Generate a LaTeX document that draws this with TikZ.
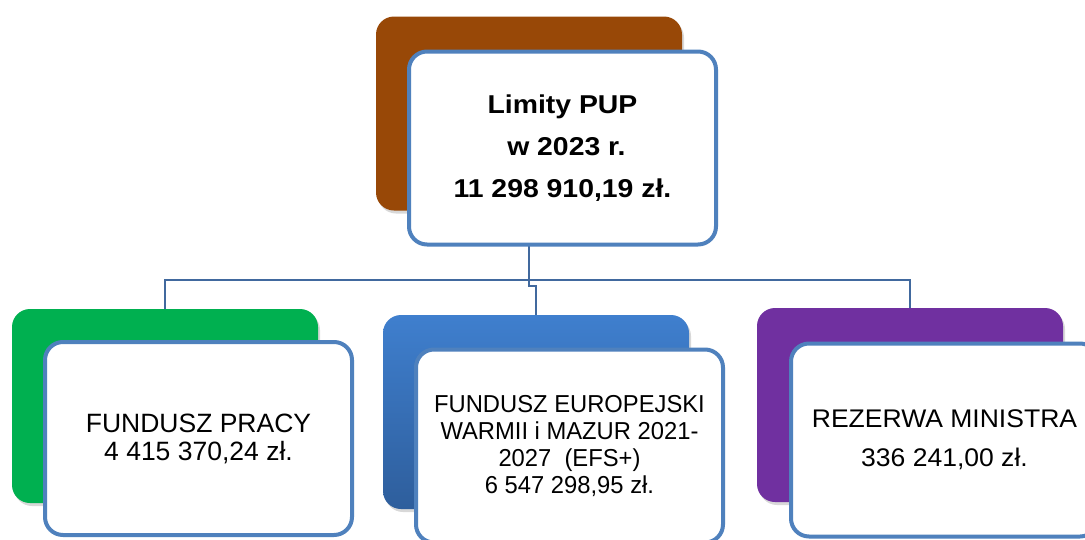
\documentclass[tikz,border=0pt]{standalone}
\usepackage{fontspec}
\setmainfont{Liberation Sans}
\newfontfamily\headfont[FakeStretch=1.1]{Liberation Sans}
\newfontfamily\wideonefont[FakeStretch=1.04]{Liberation Sans}
\newfontfamily\narrowfont[FakeStretch=0.97]{Liberation Sans}
\usetikzlibrary{shadows}
\definecolor{limitcolor}{RGB}{152,72,7}
\definecolor{fpcolor}{RGB}{0,176,80}
\definecolor{efscolor}{RGB}{63,127,206}
\definecolor{efsdark}{RGB}{46,94,156}
\definecolor{rezcolor}{RGB}{112,48,160}
\definecolor{framecolor}{RGB}{79,129,189}
\definecolor{linkcolor}{RGB}{65,105,158}
\tikzset{
  backcard/.style={rounded corners=18pt, minimum width=306pt,
                   minimum height=194pt, fill=#1, draw=none,
                   drop shadow={opacity=0.3, shadow xshift=2pt, shadow yshift=-3pt}},
  backcard/.default=limitcolor,
  frontcard/.style={rounded corners=18pt, minimum width=307pt,
                    minimum height=193pt, fill=white, draw=framecolor,
                    line width=4pt, align=center, inner sep=0pt},
  link/.style={draw=linkcolor, line width=1.5pt},
}

\begin{document}
\begin{tikzpicture}[x=1pt, y=-1pt]
  \useasboundingbox[fill=white] (0,0) rectangle (1085,539);

  % Back cards
  \node[backcard=limitcolor] (limitback) at (529,113.5) {};
  \node[backcard=fpcolor]    (fpback)    at (165,406) {};
  \node[backcard, fill=none, top color=efscolor, bottom color=efsdark]
    (efsback) at (536,412) {};
  \node[backcard=rezcolor]   (rezback)   at (910,405) {};

  % Links
  \coordinate (split) at (529,280);
  \draw[link] (limitback.south) -- (split) -| (fpback.north);
  \draw[link] (split) -| (rezback.north);
  \draw[link] (split) -- ++(0,6) -| (efsback.north);

  % Front cards
  \node[frontcard, font=\headfont\bfseries\fontsize{25.8}{42}\selectfont]
    (limit) at (562.5,148) {Limity PUP\\~w 2023 r.\\11 298 910,19 zł.};
  \node[frontcard, font=\fontsize{26.5}{28}\selectfont]
    (fp) at (198.5,438.5) {FUNDUSZ PRACY\\4 415 370,24 zł.};
  \node[frontcard, font=\narrowfont\fontsize{24.5}{27}\selectfont]
    (efs) at (569.5,446)
    {FUNDUSZ EUROPEJSKI\\WARMII i MAZUR 2021-\\2027~~(EFS+)\\6 547 298,95 zł.};
  \node[frontcard, font=\wideonefont\fontsize{25.5}{39}\selectfont]
    (rez) at (944.5,440) {REZERWA MINISTRA\\336 241,00 zł.};

\end{tikzpicture}
\end{document}
